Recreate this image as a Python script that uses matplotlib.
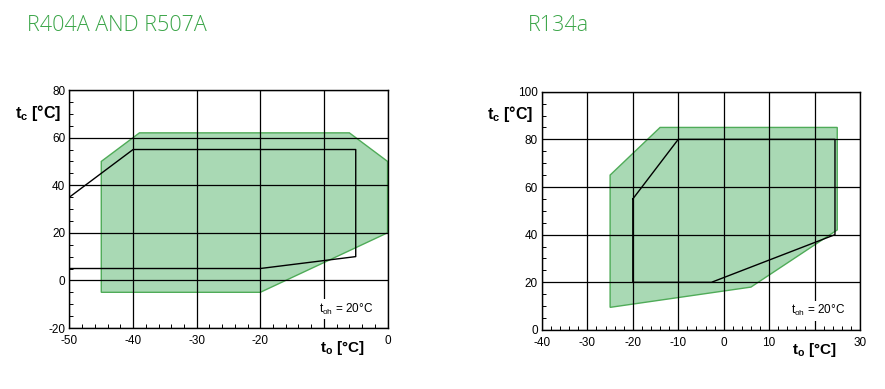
import matplotlib
matplotlib.use("Agg")
import matplotlib.pyplot as plt
from matplotlib.ticker import MultipleLocator, FixedFormatter, FixedLocator
from matplotlib.patches import Polygon

plt.rcParams['font.family'] = ['Liberation Sans', 'DejaVu Sans']
plt.rcParams['axes.unicode_minus'] = False
plt.rcParams['mathtext.fontset'] = 'custom'
plt.rcParams['mathtext.rm'] = 'Liberation Sans'
plt.rcParams['mathtext.it'] = 'Liberation Sans'
plt.rcParams['mathtext.bf'] = 'Liberation Sans:bold'

# ---- data ----
title_left = "R404A AND R507A"
title_right = "R134a"

# R404A / R507A envelope (to, tc)
env1_to = [-45, -39, -6, 0, 0, -20, -45]
env1_tc = [50, 62, 62, 50, 20, -5, -5]
line1_to = [-50, -40, -5, -5, -20, -50]
line1_tc = [35, 55, 55, 10, 5, 5]

# R134a envelope
env2_to = [-25, -25, -14, 25, 25, 6, -25]
env2_tc = [9.5, 65, 85, 85, 42, 18, 9.5]
line2_to = [-20, -10, 24.5, 24.5, -2.7, -20, -20]
line2_tc = [55, 80, 80, 40, 20, 20, 55]

x1_ticks = [-50, -40, -30, -20, -10, 0]
x1_labels = ["-50", "-40", "-30", "-20", "", "0"]
y1_ticks = [-20, 0, 20, 40, 60, 80]
y1_labels = ["-20", "0", "20", "40", "60", "80"]
x2_ticks = [-40, -30, -20, -10, 0, 10, 20, 30]
x2_labels = ["-40", "-30", "-20", "-10", "0", "10", "", "30"]
y2_ticks = [0, 20, 40, 60, 80, 100]
y2_labels = ["0", "20", "40", "60", "80", "100"]

annot = r"$\mathregular{t_{oh}}$ = 20°C"

fill_c = "#a9d9b4"
edge_c = "#4fab58"
title_c = "#3aa548"

fig = plt.figure(figsize=(8.85, 3.89), dpi=100)
ax1 = fig.add_axes([0.0785, 0.1568, 0.3594, 0.6118])
ax2 = fig.add_axes([0.6124, 0.1517, 0.3593, 0.6126])


def setup(ax, env_x, env_y, lx, ly, xt, xl, yt, yl, xlim, ylim):
    ax.add_patch(Polygon(list(zip(env_x, env_y)), closed=True,
                         facecolor=fill_c, edgecolor=edge_c, lw=1.0, zorder=1))
    ax.plot(lx, ly, color="black", lw=1.0, zorder=3)
    ax.set_xlim(*xlim)
    ax.set_ylim(*ylim)
    ax.xaxis.set_major_locator(FixedLocator(xt))
    ax.xaxis.set_major_formatter(FixedFormatter(xl))
    ax.yaxis.set_major_locator(FixedLocator(yt))
    ax.yaxis.set_major_formatter(FixedFormatter(yl))
    ax.xaxis.set_minor_locator(MultipleLocator(2))
    ax.yaxis.set_minor_locator(MultipleLocator(5))
    ax.grid(True, which="major", color="black", lw=0.9, zorder=2)
    ax.set_axisbelow(False)
    ax.tick_params(which="both", direction="in", labelsize=8.5)
    ax.tick_params(axis="x", pad=5)
    ax.tick_params(axis="y", pad=3)
    ax.tick_params(which="major", length=0)
    ax.tick_params(which="minor", length=3, width=0.7)
    for s in ax.spines.values():
        s.set_linewidth(1.0)
        s.set_zorder(4)
    ax.text(0.857, -0.085, r"$\mathbf{t_o}$ [°C]", transform=ax.transAxes,
            ha="center", va="center", fontsize=11, fontweight="bold")
    ax.text(-0.026, 0.905, r"$\mathbf{t_c}$ [°C]", transform=ax.transAxes,
            ha="right", va="center", fontsize=11.5, fontweight="bold")
    ax.text(0.868, 0.08, annot, transform=ax.transAxes, ha="center",
            va="center", fontsize=8.5, zorder=5,
            bbox=dict(facecolor="white", edgecolor="none", pad=1.5))


setup(ax1, env1_to, env1_tc, line1_to, line1_tc, x1_ticks, x1_labels,
      y1_ticks, y1_labels, (-50, 0), (-20, 80))
setup(ax2, env2_to, env2_tc, line2_to, line2_tc, x2_ticks, x2_labels,
      y2_ticks, y2_labels, (-40, 30), (0, 100))

fig.text(27 / 885, 1 - 31 / 389, title_left, color=title_c, fontsize=15.5,
         family=["Open Sans", "DejaVu Sans"], fontweight="light", va="baseline")
fig.text(528 / 885, 1 - 31 / 389, title_right, color=title_c, fontsize=15.5,
         family=["Open Sans", "DejaVu Sans"], fontweight="light", va="baseline")

fig.savefig("out.png", dpi=100)
